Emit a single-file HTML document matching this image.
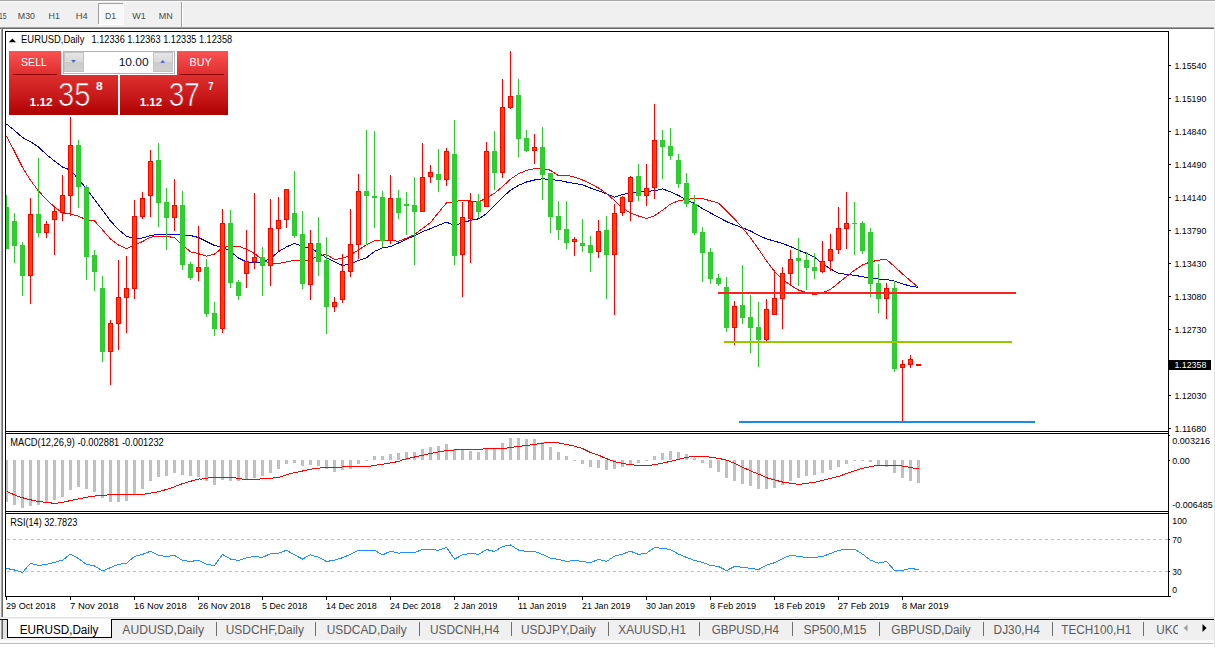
<!DOCTYPE html>
<html><head><meta charset="utf-8"><title>EURUSD,Daily</title>
<style>html,body{margin:0;padding:0;background:#fff;font-family:"Liberation Sans",sans-serif;}svg{display:block}text{font-family:"Liberation Sans",sans-serif;white-space:pre}</style>
</head><body>
<svg width="1215" height="647" viewBox="0 0 1215 647" font-family="Liberation Sans, sans-serif"><rect x="0" y="0" width="1215" height="647" fill="#fff"/>
<rect x="0" y="0" width="1215" height="27" fill="#f0f0f0"/>
<rect x="0" y="0" width="1215" height="1" fill="#a8a8a8"/>
<rect x="0" y="1" width="1215" height="1" fill="#fbfbfb"/>
<rect x="0" y="27" width="1215" height="1" fill="#a0a0a0"/>
<rect x="0" y="28" width="1215" height="1" fill="#696969"/>
<rect x="0" y="29" width="1" height="589" fill="#f0f0f0"/>
<rect x="1" y="28" width="1" height="590" fill="#a0a0a0"/>
<rect x="2" y="28" width="1" height="590" fill="#696969"/>
<rect x="1214" y="27" width="1" height="620" fill="#e3e3e3"/>
<rect x="0" y="617" width="1215" height="1" fill="#e3e3e3"/>
<rect x="0" y="618" width="1215" height="1" fill="#f0f0f0"/>
<rect x="98" y="3" width="26" height="22" fill="#f8f8f8"/>
<rect x="98" y="3" width="25" height="1" fill="#a0a0a0"/>
<rect x="98" y="3" width="1" height="22" fill="#a0a0a0"/>
<rect x="123" y="3" width="1" height="22" fill="#fff"/>
<rect x="98" y="24" width="26" height="1" fill="#fff"/>
<text x="-1" y="18.9" font-size="9.8" textLength="7.6" lengthAdjust="spacingAndGlyphs" fill="#4a4a4a">15</text>
<text x="17.8" y="18.9" font-size="9.8" textLength="17.2" lengthAdjust="spacingAndGlyphs" fill="#4a4a4a">M30</text>
<text x="48.6" y="18.9" font-size="9.8" textLength="11.4" lengthAdjust="spacingAndGlyphs" fill="#4a4a4a">H1</text>
<text x="75.7" y="18.9" font-size="9.8" textLength="12" lengthAdjust="spacingAndGlyphs" fill="#4a4a4a">H4</text>
<text x="104.9" y="18.9" font-size="9.8" textLength="11.1" lengthAdjust="spacingAndGlyphs" fill="#4a4a4a">D1</text>
<text x="132.2" y="18.9" font-size="9.8" textLength="13.5" lengthAdjust="spacingAndGlyphs" fill="#4a4a4a">W1</text>
<text x="158.8" y="18.9" font-size="9.8" textLength="14" lengthAdjust="spacingAndGlyphs" fill="#4a4a4a">MN</text>
<rect x="181" y="2" width="1" height="25" fill="#a0a0a0"/>
<rect x="182" y="2" width="1" height="25" fill="#ffffff"/>
<rect x="5" y="31" width="1" height="566" fill="#000"/>
<rect x="1168" y="31" width="1" height="566" fill="#000"/>
<rect x="5" y="31" width="1164" height="1" fill="#000"/>
<rect x="5" y="431" width="1164" height="1" fill="#000"/>
<rect x="5" y="433" width="1164" height="1" fill="#000"/>
<rect x="5" y="511" width="1164" height="1" fill="#000"/>
<rect x="5" y="513" width="1164" height="1" fill="#000"/>
<rect x="5" y="596" width="1164" height="1" fill="#000"/>
<rect x="1169" y="65" width="2" height="1" fill="#000"/>
<text x="1174.4" y="68.7" font-size="9.4" textLength="32" lengthAdjust="spacingAndGlyphs">1.15540</text>
<rect x="1169" y="98" width="2" height="1" fill="#000"/>
<text x="1174.4" y="101.72" font-size="9.4" textLength="32" lengthAdjust="spacingAndGlyphs">1.15190</text>
<rect x="1169" y="131" width="2" height="1" fill="#000"/>
<text x="1174.4" y="134.74" font-size="9.4" textLength="32" lengthAdjust="spacingAndGlyphs">1.14840</text>
<rect x="1169" y="164" width="2" height="1" fill="#000"/>
<text x="1174.4" y="167.76" font-size="9.4" textLength="32" lengthAdjust="spacingAndGlyphs">1.14490</text>
<rect x="1169" y="197" width="2" height="1" fill="#000"/>
<text x="1174.4" y="200.78" font-size="9.4" textLength="32" lengthAdjust="spacingAndGlyphs">1.14140</text>
<rect x="1169" y="230" width="2" height="1" fill="#000"/>
<text x="1174.4" y="233.8" font-size="9.4" textLength="32" lengthAdjust="spacingAndGlyphs">1.13790</text>
<rect x="1169" y="263" width="2" height="1" fill="#000"/>
<text x="1174.4" y="266.82" font-size="9.4" textLength="32" lengthAdjust="spacingAndGlyphs">1.13430</text>
<rect x="1169" y="296" width="2" height="1" fill="#000"/>
<text x="1174.4" y="299.84" font-size="9.4" textLength="32" lengthAdjust="spacingAndGlyphs">1.13080</text>
<rect x="1169" y="329" width="2" height="1" fill="#000"/>
<text x="1174.4" y="332.86" font-size="9.4" textLength="32" lengthAdjust="spacingAndGlyphs">1.12730</text>
<rect x="1169" y="395" width="2" height="1" fill="#000"/>
<text x="1174.4" y="398.9" font-size="9.4" textLength="32" lengthAdjust="spacingAndGlyphs">1.12030</text>
<rect x="1169" y="428" width="2" height="1" fill="#000"/>
<text x="1174.4" y="431.92" font-size="9.4" textLength="32" lengthAdjust="spacingAndGlyphs">1.11680</text>
<rect x="1169" y="360" width="42" height="10" fill="#000"/>
<text x="1174.4" y="368.2" font-size="9.4" textLength="32" lengthAdjust="spacingAndGlyphs" fill="#fff">1.12358</text>
<rect x="1169" y="435" width="1" height="1" fill="#000"/>
<text x="1172.3" y="443.8" font-size="9.4" textLength="37.7" lengthAdjust="spacingAndGlyphs">0.003216</text>
<rect x="1169" y="460" width="1" height="1" fill="#000"/>
<text x="1172.3" y="463.7" font-size="9.4" textLength="17.5" lengthAdjust="spacingAndGlyphs">0.00</text>
<text x="1172.3" y="507.8" font-size="9.4" textLength="40.4" lengthAdjust="spacingAndGlyphs">-0.006485</text>
<text x="1172.3" y="523.9" font-size="9.4" textLength="14.6" lengthAdjust="spacingAndGlyphs">100</text>
<rect x="1169" y="539" width="1" height="1" fill="#000"/>
<text x="1172.3" y="542.8" font-size="9.4" textLength="9.4" lengthAdjust="spacingAndGlyphs">70</text>
<rect x="1169" y="571" width="1" height="1" fill="#000"/>
<text x="1172.3" y="574.9" font-size="9.4" textLength="9.4" lengthAdjust="spacingAndGlyphs">30</text>
<text x="1172.3" y="592.8" font-size="9.4" textLength="4.8" lengthAdjust="spacingAndGlyphs">0</text>
<rect x="1169" y="596" width="2" height="1" fill="#000"/>
<rect x="6" y="597" width="1" height="3" fill="#000"/>
<text x="6" y="609" font-size="9.5" textLength="49.5" lengthAdjust="spacingAndGlyphs">29 Oct 2018</text>
<rect x="70" y="597" width="1" height="3" fill="#000"/>
<text x="70" y="609" font-size="9.5" textLength="48.6" lengthAdjust="spacingAndGlyphs">7 Nov 2018</text>
<rect x="134" y="597" width="1" height="3" fill="#000"/>
<text x="134" y="609" font-size="9.5" textLength="52.7" lengthAdjust="spacingAndGlyphs">16 Nov 2018</text>
<rect x="198" y="597" width="1" height="3" fill="#000"/>
<text x="198" y="609" font-size="9.5" textLength="52.4" lengthAdjust="spacingAndGlyphs">26 Nov 2018</text>
<rect x="262" y="597" width="1" height="3" fill="#000"/>
<text x="262" y="609" font-size="9.5" textLength="45.3" lengthAdjust="spacingAndGlyphs">5 Dec 2018</text>
<rect x="326" y="597" width="1" height="3" fill="#000"/>
<text x="326" y="609" font-size="9.5" textLength="50.7" lengthAdjust="spacingAndGlyphs">14 Dec 2018</text>
<rect x="390" y="597" width="1" height="3" fill="#000"/>
<text x="390" y="609" font-size="9.5" textLength="50.7" lengthAdjust="spacingAndGlyphs">24 Dec 2018</text>
<rect x="454" y="597" width="1" height="3" fill="#000"/>
<text x="454" y="609" font-size="9.5" textLength="43.4" lengthAdjust="spacingAndGlyphs">2 Jan 2019</text>
<rect x="518" y="597" width="1" height="3" fill="#000"/>
<text x="518" y="609" font-size="9.5" textLength="48.4" lengthAdjust="spacingAndGlyphs">11 Jan 2019</text>
<rect x="582" y="597" width="1" height="3" fill="#000"/>
<text x="582" y="609" font-size="9.5" textLength="48.4" lengthAdjust="spacingAndGlyphs">21 Jan 2019</text>
<rect x="646" y="597" width="1" height="3" fill="#000"/>
<text x="646" y="609" font-size="9.5" textLength="49" lengthAdjust="spacingAndGlyphs">30 Jan 2019</text>
<rect x="710" y="597" width="1" height="3" fill="#000"/>
<text x="710" y="609" font-size="9.5" textLength="46" lengthAdjust="spacingAndGlyphs">8 Feb 2019</text>
<rect x="774" y="597" width="1" height="3" fill="#000"/>
<text x="774" y="609" font-size="9.5" textLength="51" lengthAdjust="spacingAndGlyphs">18 Feb 2019</text>
<rect x="838" y="597" width="1" height="3" fill="#000"/>
<text x="838" y="609" font-size="9.5" textLength="51.2" lengthAdjust="spacingAndGlyphs">27 Feb 2019</text>
<rect x="902" y="597" width="1" height="3" fill="#000"/>
<text x="902" y="609" font-size="9.5" textLength="46.5" lengthAdjust="spacingAndGlyphs">8 Mar 2019</text>
<line x1="7" y1="539.5" x2="1168" y2="539.5" stroke="#c0c0c0" stroke-width="1" stroke-dasharray="3 3" shape-rendering="crispEdges"/>
<line x1="7" y1="571.5" x2="1168" y2="571.5" stroke="#c0c0c0" stroke-width="1" stroke-dasharray="3 3" shape-rendering="crispEdges"/>
<g fill="#c0c0c0" shape-rendering="crispEdges">
<rect x="6" y="460" width="2" height="42"/>
<rect x="13" y="460" width="3" height="45"/>
<rect x="21" y="460" width="3" height="48"/>
<rect x="29" y="460" width="3" height="46"/>
<rect x="37" y="460" width="3" height="45"/>
<rect x="45" y="460" width="3" height="42"/>
<rect x="53" y="460" width="3" height="40"/>
<rect x="61" y="460" width="3" height="37"/>
<rect x="69" y="460" width="3" height="30"/>
<rect x="77" y="460" width="3" height="27"/>
<rect x="85" y="460" width="3" height="29"/>
<rect x="93" y="460" width="3" height="32"/>
<rect x="101" y="460" width="3" height="38"/>
<rect x="109" y="460" width="3" height="42"/>
<rect x="117" y="460" width="3" height="42"/>
<rect x="125" y="460" width="3" height="41"/>
<rect x="133" y="460" width="3" height="34"/>
<rect x="141" y="460" width="3" height="29"/>
<rect x="149" y="460" width="3" height="21"/>
<rect x="157" y="460" width="3" height="17"/>
<rect x="165" y="460" width="3" height="16"/>
<rect x="173" y="460" width="3" height="13"/>
<rect x="181" y="460" width="3" height="15"/>
<rect x="189" y="460" width="3" height="16"/>
<rect x="197" y="460" width="3" height="17"/>
<rect x="205" y="460" width="3" height="21"/>
<rect x="213" y="460" width="3" height="25"/>
<rect x="221" y="460" width="3" height="20"/>
<rect x="229" y="460" width="3" height="21"/>
<rect x="237" y="460" width="3" height="21"/>
<rect x="245" y="460" width="3" height="20"/>
<rect x="253" y="460" width="3" height="18"/>
<rect x="261" y="460" width="3" height="16"/>
<rect x="269" y="460" width="3" height="13"/>
<rect x="277" y="460" width="3" height="9"/>
<rect x="285" y="460" width="3" height="4"/>
<rect x="293" y="460" width="3" height="3"/>
<rect x="301" y="460" width="3" height="6"/>
<rect x="309" y="460" width="3" height="5"/>
<rect x="317" y="460" width="3" height="6"/>
<rect x="325" y="460" width="3" height="9"/>
<rect x="333" y="460" width="3" height="12"/>
<rect x="341" y="460" width="3" height="10"/>
<rect x="349" y="460" width="3" height="9"/>
<rect x="357" y="460" width="3" height="4"/>
<rect x="365" y="460" width="3" height="1"/>
<rect x="373" y="456" width="3" height="4"/>
<rect x="381" y="456" width="3" height="4"/>
<rect x="389" y="454" width="3" height="6"/>
<rect x="397" y="453" width="3" height="7"/>
<rect x="405" y="452" width="3" height="8"/>
<rect x="413" y="452" width="3" height="8"/>
<rect x="421" y="449" width="3" height="11"/>
<rect x="429" y="447" width="3" height="13"/>
<rect x="437" y="446" width="3" height="14"/>
<rect x="445" y="444" width="3" height="16"/>
<rect x="453" y="449" width="3" height="11"/>
<rect x="461" y="450" width="3" height="10"/>
<rect x="469" y="451" width="3" height="9"/>
<rect x="477" y="452" width="3" height="8"/>
<rect x="485" y="449" width="3" height="11"/>
<rect x="493" y="449" width="3" height="11"/>
<rect x="501" y="443" width="3" height="17"/>
<rect x="509" y="438" width="3" height="22"/>
<rect x="517" y="438" width="3" height="22"/>
<rect x="525" y="439" width="3" height="21"/>
<rect x="533" y="439" width="3" height="21"/>
<rect x="541" y="442" width="3" height="18"/>
<rect x="549" y="447" width="3" height="13"/>
<rect x="557" y="452" width="3" height="8"/>
<rect x="565" y="456" width="3" height="4"/>
<rect x="573" y="460" width="3" height="1"/>
<rect x="581" y="460" width="3" height="4"/>
<rect x="589" y="460" width="3" height="7"/>
<rect x="597" y="460" width="3" height="8"/>
<rect x="605" y="460" width="3" height="10"/>
<rect x="613" y="460" width="3" height="9"/>
<rect x="621" y="460" width="3" height="7"/>
<rect x="629" y="460" width="3" height="4"/>
<rect x="637" y="460" width="3" height="3"/>
<rect x="645" y="460" width="3" height="1"/>
<rect x="653" y="456" width="3" height="4"/>
<rect x="661" y="453" width="3" height="7"/>
<rect x="669" y="451" width="3" height="9"/>
<rect x="677" y="452" width="3" height="8"/>
<rect x="685" y="454" width="3" height="6"/>
<rect x="693" y="458" width="3" height="2"/>
<rect x="701" y="460" width="3" height="3"/>
<rect x="709" y="460" width="3" height="8"/>
<rect x="717" y="460" width="3" height="12"/>
<rect x="725" y="460" width="3" height="18"/>
<rect x="733" y="460" width="3" height="21"/>
<rect x="741" y="460" width="3" height="24"/>
<rect x="749" y="460" width="3" height="26"/>
<rect x="757" y="460" width="3" height="29"/>
<rect x="765" y="460" width="3" height="29"/>
<rect x="773" y="460" width="3" height="28"/>
<rect x="781" y="460" width="3" height="25"/>
<rect x="789" y="460" width="3" height="21"/>
<rect x="797" y="460" width="3" height="18"/>
<rect x="805" y="460" width="3" height="16"/>
<rect x="813" y="460" width="3" height="15"/>
<rect x="821" y="460" width="3" height="13"/>
<rect x="829" y="460" width="3" height="10"/>
<rect x="837" y="460" width="3" height="7"/>
<rect x="845" y="460" width="3" height="4"/>
<rect x="853" y="460" width="3" height="1"/>
<rect x="861" y="460" width="3" height="1"/>
<rect x="869" y="460" width="3" height="2"/>
<rect x="877" y="460" width="3" height="5"/>
<rect x="885" y="460" width="3" height="7"/>
<rect x="893" y="460" width="3" height="13"/>
<rect x="901" y="460" width="3" height="18"/>
<rect x="909" y="460" width="3" height="21"/>
<rect x="917" y="460" width="3" height="23"/>
</g>
<polyline points="7.1,491.6 17,496 26.8,499 38.4,501.5 48.2,502.6 55.6,503.5 66.3,501.5 77.9,499 91,496.5 102.5,495.2 115.7,494.6 132.2,494.4 145.4,494 156.9,492 168.4,489 181.5,484 191.5,481 199.7,478.8 200.5,479.3 210.4,477.6 233.4,477.6 243.3,479.3 266.3,478.9 279.5,477.1 291,473.5 302.5,471 314.1,468.6 325.6,467.4 337.1,467.4 348.6,466.4 368.4,466.4 378.3,464.8 389.8,463.1 399.7,461.2 400.5,460.3 410.4,457.9 421.9,455.4 433.4,452.9 446.6,450.5 459.8,449.6 479.5,449.6 486.1,448.5 504.2,448.5 515.7,446.7 528.9,445.2 540.4,443.5 550.3,442.2 555.2,442.2 565.1,444.2 575,446.3 583.2,448.8 591.4,452.9 599.7,455.4 600.5,456.2 608.7,459.5 617,462.3 626.8,464.1 636.7,465.3 649.9,465.3 658.1,464 666.3,462.3 674.6,460.3 682.8,458.2 691,456.6 705.8,456.6 715.7,457.9 725.6,459.8 735.5,463.6 743.7,467.7 751.9,471.5 760.2,474.7 768.4,478.4 775,480.1 783.2,482.2 791.4,483.4 799.7,484.5 800.5,484.2 815.3,482.1 825.2,479.6 838.4,476.5 848.2,473 861.4,468.6 877.9,465.3 897.6,465.3 907.5,466.9 918.5,469" fill="none" stroke="#ff0000" stroke-width="1" shape-rendering="crispEdges"/>
<polyline points="6.5,568.4 14.5,570 22.5,572.6 30.5,563.2 38.5,565.5 46.5,564.3 54.5,562.3 62.5,560.2 70.5,554.1 78.5,558.6 86.5,564.3 94.5,566 102.5,570.9 110.5,567.6 118.5,564.3 126.5,563.2 134.5,556.4 142.5,554.4 150.5,551.2 158.5,555.3 166.5,556.6 174.5,555.3 182.5,560.5 190.5,561.5 198.5,560.2 206.5,564.3 214.5,565.5 222.5,554.4 230.5,559 238.5,560.5 246.5,557.7 254.5,556.4 262.5,557.4 270.5,553.6 278.5,553.3 286.5,550.3 294.5,554.9 302.5,559 310.5,554.9 318.5,557.2 326.5,561.5 334.5,560.2 342.5,557.7 350.5,554.4 358.5,550.3 366.5,550.3 374.5,550.3 382.5,554.9 390.5,551.2 398.5,553.1 406.5,552.5 414.5,552.5 422.5,549.5 430.5,549.5 438.5,550.3 446.5,547.5 454.5,559 462.5,554.9 470.5,553.3 478.5,554.4 486.5,549.5 494.5,551.5 502.5,546.5 510.5,545 518.5,550 526.5,551.5 534.5,551.5 542.5,554.4 550.5,558.2 558.5,559.4 566.5,561.5 574.5,560.5 582.5,561.5 590.5,562.7 598.5,559.4 606.5,561.5 614.5,556.1 622.5,554.1 630.5,551.2 638.5,554.4 646.5,553.3 654.5,547.5 662.5,548.4 670.5,549.5 678.5,554.1 686.5,557.4 694.5,560.5 702.5,562.3 710.5,565.5 718.5,566.5 726.5,570.6 734.5,566.5 742.5,567.3 750.5,568.4 758.5,569.6 766.5,565.1 774.5,562.7 782.5,558.6 790.5,555.3 798.5,556.4 806.5,557.4 814.5,557.4 822.5,556.4 830.5,553.6 838.5,550.3 846.5,549.2 854.5,549.2 862.5,554.1 870.5,560.2 878.5,563.2 886.5,561.5 894.5,570.4 902.5,570.4 910.5,568.4 918.5,569.6" fill="none" stroke="#1e90ff" stroke-width="1" shape-rendering="crispEdges"/>
<polyline points="6.5,124 14.5,130.4 22.5,137.5 30.5,141.7 38.5,147 46.5,154.6 54.5,161 62.5,167 70.5,170.2 78.5,179.2 86.5,188.8 94.5,199.5 102.5,210.2 110.5,221 118.5,229.5 126.5,236.3 134.5,238.7 142.5,238 150.5,235.5 158.5,234.3 166.5,234.8 174.5,234.3 182.5,235 190.5,235.5 198.5,237.5 206.5,241.5 214.5,245.5 222.5,247 230.5,251.5 238.5,258 246.5,261.9 254.5,262.6 262.5,262.3 270.5,258.4 278.5,251.7 286.5,246.9 294.5,243.4 302.5,246.5 310.5,247.9 318.5,252.8 326.5,257.7 334.5,261.9 342.5,265.4 350.5,264 358.5,260.5 366.5,257.7 374.5,251.4 382.5,247.9 390.5,246.5 398.5,243 406.5,239.3 414.5,235.6 422.5,231.6 430.5,228.6 438.5,225.2 446.5,222.2 454.5,225.4 462.5,222.8 470.5,220.4 478.5,218.8 486.5,213.8 494.5,205.6 502.5,197.3 510.5,190.3 518.5,185.3 526.5,182 534.5,180 542.5,178.8 550.5,179.4 558.5,180.4 566.5,182 574.5,183.4 582.5,184.8 590.5,188 598.5,190.9 606.5,193.7 614.5,197.3 622.5,194.5 630.5,193.1 638.5,192.3 646.5,191.5 654.5,190.7 662.5,188.9 670.5,191.9 678.5,195.5 686.5,199.7 694.5,203.5 702.5,208.6 710.5,213 718.5,217.2 726.5,221.6 734.5,224.8 742.5,227.8 750.5,231 758.5,235.3 766.5,238.9 774.5,241.1 782.5,243.5 790.5,246.5 798.5,250.2 806.5,253.4 814.5,257 822.5,263.8 830.5,269 838.5,273.3 846.5,274.3 854.5,275.3 862.5,276.7 870.5,278.1 878.5,279.1 886.5,279.5 894.5,281.1 902.5,283.9 910.5,286.1 918.5,287.5" fill="none" stroke="#0000cd" stroke-width="1" shape-rendering="crispEdges"/>
<polyline points="6.5,136.4 14.5,151.4 22.5,167.4 30.5,180.3 38.5,191 46.5,199.5 54.5,207 62.5,213 70.5,213.9 78.5,216.2 86.5,219.9 94.5,220.9 102.5,229.8 110.5,239 118.5,245 126.5,248.6 134.5,245.2 142.5,241.5 150.5,237.2 158.5,236.2 166.5,236.2 174.5,237.8 182.5,244.8 190.5,251.8 198.5,253.7 206.5,256.1 214.5,254.1 222.5,247.7 230.5,246.3 238.5,246.1 246.5,249.3 254.5,253.5 262.5,259.8 270.5,264 278.5,263.6 286.5,261.9 294.5,260.2 302.5,260.5 310.5,259.8 318.5,255.6 326.5,254.6 334.5,259.5 342.5,258.4 350.5,254.9 358.5,250 366.5,244.8 374.5,240.6 382.5,240.9 390.5,240.6 398.5,241.2 406.5,238.3 414.5,234.6 422.5,228.6 430.5,222.6 438.5,212.5 446.5,203 454.5,201.5 462.5,200.5 470.5,201 478.5,202 486.5,198 494.5,193.3 502.5,186.5 510.5,179.2 518.5,173.8 526.5,170.4 534.5,168.6 542.5,168.6 550.5,170.2 558.5,175.8 566.5,175.2 574.5,177.2 582.5,180 590.5,183.8 598.5,188 606.5,193.5 614.5,200.5 622.5,208 630.5,213 638.5,216 646.5,218.4 654.5,215.8 662.5,210.2 670.5,204.1 678.5,200.7 686.5,199.5 694.5,198.5 702.5,198.7 710.5,200.8 718.5,203.1 726.5,211.2 734.5,219 742.5,227.8 750.5,237.9 758.5,249.1 766.5,261 774.5,271.3 782.5,279.3 790.5,285.3 798.5,290 806.5,292.6 814.5,294.6 822.5,292.6 830.5,289.5 838.5,282.9 846.5,276.5 854.5,270.3 862.5,265 870.5,261.8 878.5,260.2 886.5,259.4 894.5,266.6 902.5,273.9 910.5,280.9 918.5,287.3" fill="none" stroke="#ff0000" stroke-width="1" shape-rendering="crispEdges"/>
<g shape-rendering="crispEdges">
<rect x="6" y="195" width="1" height="54" fill="#2ecb2e"/>
<rect x="6" y="207" width="3" height="42" fill="#2ecb2e"/>
<rect x="14" y="213" width="1" height="50" fill="#2ecb2e"/>
<rect x="12" y="221" width="5" height="25" fill="#2ecb2e"/>
<rect x="13" y="222" width="3" height="23" fill="#32cd32"/>
<rect x="22" y="242" width="1" height="54" fill="#2ecb2e"/>
<rect x="20" y="245" width="5" height="31" fill="#2ecb2e"/>
<rect x="21" y="246" width="3" height="29" fill="#32cd32"/>
<rect x="30" y="198" width="1" height="106" fill="#ff0000"/>
<rect x="28" y="214" width="5" height="62" fill="#ff0000"/>
<rect x="29" y="215" width="3" height="60" fill="#ff4500"/>
<rect x="38" y="158" width="1" height="79" fill="#2ecb2e"/>
<rect x="36" y="214" width="5" height="19" fill="#2ecb2e"/>
<rect x="37" y="215" width="3" height="17" fill="#32cd32"/>
<rect x="46" y="221" width="1" height="17" fill="#ff0000"/>
<rect x="44" y="224" width="5" height="9" fill="#ff0000"/>
<rect x="45" y="225" width="3" height="7" fill="#ff4500"/>
<rect x="54" y="206" width="1" height="49" fill="#ff0000"/>
<rect x="52" y="211" width="5" height="9" fill="#ff0000"/>
<rect x="53" y="212" width="3" height="7" fill="#ff4500"/>
<rect x="62" y="175" width="1" height="46" fill="#ff0000"/>
<rect x="60" y="195" width="5" height="18" fill="#ff0000"/>
<rect x="61" y="196" width="3" height="16" fill="#ff4500"/>
<rect x="70" y="117" width="1" height="99" fill="#ff0000"/>
<rect x="68" y="145" width="5" height="51" fill="#ff0000"/>
<rect x="69" y="146" width="3" height="49" fill="#ff4500"/>
<rect x="78" y="140" width="1" height="68" fill="#2ecb2e"/>
<rect x="76" y="145" width="5" height="42" fill="#2ecb2e"/>
<rect x="77" y="146" width="3" height="40" fill="#32cd32"/>
<rect x="86" y="185" width="1" height="95" fill="#2ecb2e"/>
<rect x="84" y="187" width="5" height="70" fill="#2ecb2e"/>
<rect x="85" y="188" width="3" height="68" fill="#32cd32"/>
<rect x="94" y="250" width="1" height="41" fill="#2ecb2e"/>
<rect x="92" y="255" width="5" height="17" fill="#2ecb2e"/>
<rect x="93" y="256" width="3" height="15" fill="#32cd32"/>
<rect x="102" y="276" width="1" height="86" fill="#2ecb2e"/>
<rect x="100" y="288" width="5" height="64" fill="#2ecb2e"/>
<rect x="101" y="289" width="3" height="62" fill="#32cd32"/>
<rect x="110" y="320" width="1" height="65" fill="#ff0000"/>
<rect x="108" y="323" width="5" height="29" fill="#ff0000"/>
<rect x="109" y="324" width="3" height="27" fill="#ff4500"/>
<rect x="118" y="260" width="1" height="90" fill="#ff0000"/>
<rect x="116" y="297" width="5" height="27" fill="#ff0000"/>
<rect x="117" y="298" width="3" height="25" fill="#ff4500"/>
<rect x="126" y="256" width="1" height="77" fill="#ff0000"/>
<rect x="124" y="288" width="5" height="10" fill="#ff0000"/>
<rect x="125" y="289" width="3" height="8" fill="#ff4500"/>
<rect x="134" y="200" width="1" height="99" fill="#ff0000"/>
<rect x="132" y="216" width="5" height="73" fill="#ff0000"/>
<rect x="133" y="217" width="3" height="71" fill="#ff4500"/>
<rect x="142" y="192" width="1" height="27" fill="#ff0000"/>
<rect x="140" y="198" width="5" height="19" fill="#ff0000"/>
<rect x="141" y="199" width="3" height="17" fill="#ff4500"/>
<rect x="150" y="150" width="1" height="67" fill="#ff0000"/>
<rect x="148" y="161" width="5" height="35" fill="#ff0000"/>
<rect x="149" y="162" width="3" height="33" fill="#ff4500"/>
<rect x="158" y="143" width="1" height="84" fill="#2ecb2e"/>
<rect x="156" y="160" width="5" height="43" fill="#2ecb2e"/>
<rect x="157" y="161" width="3" height="41" fill="#32cd32"/>
<rect x="166" y="188" width="1" height="62" fill="#2ecb2e"/>
<rect x="164" y="202" width="5" height="16" fill="#2ecb2e"/>
<rect x="165" y="203" width="3" height="14" fill="#32cd32"/>
<rect x="174" y="179" width="1" height="52" fill="#ff0000"/>
<rect x="172" y="205" width="5" height="13" fill="#ff0000"/>
<rect x="173" y="206" width="3" height="11" fill="#ff4500"/>
<rect x="182" y="191" width="1" height="79" fill="#2ecb2e"/>
<rect x="180" y="205" width="5" height="60" fill="#2ecb2e"/>
<rect x="181" y="206" width="3" height="58" fill="#32cd32"/>
<rect x="190" y="262" width="1" height="18" fill="#2ecb2e"/>
<rect x="188" y="264" width="5" height="14" fill="#2ecb2e"/>
<rect x="189" y="265" width="3" height="12" fill="#32cd32"/>
<rect x="198" y="226" width="1" height="55" fill="#ff0000"/>
<rect x="196" y="267" width="5" height="5" fill="#ff0000"/>
<rect x="197" y="268" width="3" height="3" fill="#ff4500"/>
<rect x="206" y="259" width="1" height="58" fill="#2ecb2e"/>
<rect x="204" y="267" width="5" height="47" fill="#2ecb2e"/>
<rect x="205" y="268" width="3" height="45" fill="#32cd32"/>
<rect x="214" y="302" width="1" height="34" fill="#2ecb2e"/>
<rect x="212" y="313" width="5" height="16" fill="#2ecb2e"/>
<rect x="213" y="314" width="3" height="14" fill="#32cd32"/>
<rect x="222" y="209" width="1" height="124" fill="#ff0000"/>
<rect x="220" y="223" width="5" height="106" fill="#ff0000"/>
<rect x="221" y="224" width="3" height="104" fill="#ff4500"/>
<rect x="230" y="210" width="1" height="78" fill="#2ecb2e"/>
<rect x="228" y="223" width="5" height="60" fill="#2ecb2e"/>
<rect x="229" y="224" width="3" height="58" fill="#32cd32"/>
<rect x="238" y="280" width="1" height="20" fill="#2ecb2e"/>
<rect x="236" y="282" width="5" height="14" fill="#2ecb2e"/>
<rect x="237" y="283" width="3" height="12" fill="#32cd32"/>
<rect x="246" y="230" width="1" height="58" fill="#ff0000"/>
<rect x="244" y="261" width="5" height="13" fill="#ff0000"/>
<rect x="245" y="262" width="3" height="11" fill="#ff4500"/>
<rect x="254" y="193" width="1" height="76" fill="#ff0000"/>
<rect x="252" y="257" width="5" height="5" fill="#ff0000"/>
<rect x="253" y="258" width="3" height="3" fill="#ff4500"/>
<rect x="262" y="247" width="1" height="49" fill="#2ecb2e"/>
<rect x="260" y="257" width="5" height="9" fill="#2ecb2e"/>
<rect x="261" y="258" width="3" height="7" fill="#32cd32"/>
<rect x="270" y="199" width="1" height="87" fill="#ff0000"/>
<rect x="268" y="228" width="5" height="38" fill="#ff0000"/>
<rect x="269" y="229" width="3" height="36" fill="#ff4500"/>
<rect x="278" y="197" width="1" height="54" fill="#ff0000"/>
<rect x="276" y="220" width="5" height="9" fill="#ff0000"/>
<rect x="277" y="221" width="3" height="7" fill="#ff4500"/>
<rect x="286" y="189" width="1" height="39" fill="#ff0000"/>
<rect x="284" y="189" width="5" height="31" fill="#ff0000"/>
<rect x="285" y="190" width="3" height="29" fill="#ff4500"/>
<rect x="294" y="171" width="1" height="67" fill="#2ecb2e"/>
<rect x="292" y="213" width="5" height="23" fill="#2ecb2e"/>
<rect x="293" y="214" width="3" height="21" fill="#32cd32"/>
<rect x="302" y="211" width="1" height="78" fill="#2ecb2e"/>
<rect x="300" y="234" width="5" height="50" fill="#2ecb2e"/>
<rect x="301" y="235" width="3" height="48" fill="#32cd32"/>
<rect x="310" y="230" width="1" height="70" fill="#ff0000"/>
<rect x="308" y="243" width="5" height="42" fill="#ff0000"/>
<rect x="309" y="244" width="3" height="40" fill="#ff4500"/>
<rect x="318" y="217" width="1" height="59" fill="#2ecb2e"/>
<rect x="316" y="243" width="5" height="19" fill="#2ecb2e"/>
<rect x="317" y="244" width="3" height="17" fill="#32cd32"/>
<rect x="326" y="237" width="1" height="97" fill="#2ecb2e"/>
<rect x="324" y="260" width="5" height="47" fill="#2ecb2e"/>
<rect x="325" y="261" width="3" height="45" fill="#32cd32"/>
<rect x="334" y="297" width="1" height="15" fill="#ff0000"/>
<rect x="332" y="302" width="5" height="5" fill="#ff0000"/>
<rect x="333" y="303" width="3" height="3" fill="#ff4500"/>
<rect x="342" y="254" width="1" height="49" fill="#ff0000"/>
<rect x="340" y="271" width="5" height="29" fill="#ff0000"/>
<rect x="341" y="272" width="3" height="27" fill="#ff4500"/>
<rect x="350" y="209" width="1" height="68" fill="#ff0000"/>
<rect x="348" y="244" width="5" height="28" fill="#ff0000"/>
<rect x="349" y="245" width="3" height="26" fill="#ff4500"/>
<rect x="358" y="174" width="1" height="85" fill="#ff0000"/>
<rect x="356" y="191" width="5" height="54" fill="#ff0000"/>
<rect x="357" y="192" width="3" height="52" fill="#ff4500"/>
<rect x="366" y="130" width="1" height="115" fill="#2ecb2e"/>
<rect x="364" y="191" width="5" height="5" fill="#2ecb2e"/>
<rect x="365" y="192" width="3" height="3" fill="#32cd32"/>
<rect x="374" y="131" width="1" height="97" fill="#2ecb2e"/>
<rect x="372" y="196" width="5" height="2" fill="#2ecb2e"/>
<rect x="382" y="191" width="1" height="56" fill="#2ecb2e"/>
<rect x="380" y="197" width="5" height="44" fill="#2ecb2e"/>
<rect x="381" y="198" width="3" height="42" fill="#32cd32"/>
<rect x="390" y="175" width="1" height="69" fill="#ff0000"/>
<rect x="388" y="198" width="5" height="43" fill="#ff0000"/>
<rect x="389" y="199" width="3" height="41" fill="#ff4500"/>
<rect x="398" y="190" width="1" height="29" fill="#2ecb2e"/>
<rect x="396" y="198" width="5" height="15" fill="#2ecb2e"/>
<rect x="397" y="199" width="3" height="13" fill="#32cd32"/>
<rect x="406" y="192" width="1" height="43" fill="#2ecb2e"/>
<rect x="404" y="204" width="5" height="2" fill="#2ecb2e"/>
<rect x="414" y="177" width="1" height="88" fill="#2ecb2e"/>
<rect x="412" y="205" width="5" height="7" fill="#2ecb2e"/>
<rect x="413" y="206" width="3" height="5" fill="#32cd32"/>
<rect x="422" y="143" width="1" height="69" fill="#ff0000"/>
<rect x="420" y="177" width="5" height="35" fill="#ff0000"/>
<rect x="421" y="178" width="3" height="33" fill="#ff4500"/>
<rect x="430" y="165" width="1" height="18" fill="#ff0000"/>
<rect x="428" y="172" width="5" height="5" fill="#ff0000"/>
<rect x="429" y="173" width="3" height="3" fill="#ff4500"/>
<rect x="438" y="149" width="1" height="43" fill="#2ecb2e"/>
<rect x="436" y="174" width="5" height="6" fill="#2ecb2e"/>
<rect x="437" y="175" width="3" height="4" fill="#32cd32"/>
<rect x="446" y="148" width="1" height="38" fill="#ff0000"/>
<rect x="444" y="151" width="5" height="29" fill="#ff0000"/>
<rect x="445" y="152" width="3" height="27" fill="#ff4500"/>
<rect x="454" y="120" width="1" height="145" fill="#2ecb2e"/>
<rect x="452" y="154" width="5" height="102" fill="#2ecb2e"/>
<rect x="453" y="155" width="3" height="100" fill="#32cd32"/>
<rect x="462" y="202" width="1" height="95" fill="#ff0000"/>
<rect x="460" y="217" width="5" height="38" fill="#ff0000"/>
<rect x="461" y="218" width="3" height="36" fill="#ff4500"/>
<rect x="470" y="193" width="1" height="70" fill="#ff0000"/>
<rect x="468" y="201" width="5" height="18" fill="#ff0000"/>
<rect x="469" y="202" width="3" height="16" fill="#ff4500"/>
<rect x="478" y="194" width="1" height="24" fill="#2ecb2e"/>
<rect x="476" y="201" width="5" height="11" fill="#2ecb2e"/>
<rect x="477" y="202" width="3" height="9" fill="#32cd32"/>
<rect x="486" y="142" width="1" height="65" fill="#ff0000"/>
<rect x="484" y="151" width="5" height="56" fill="#ff0000"/>
<rect x="485" y="152" width="3" height="54" fill="#ff4500"/>
<rect x="494" y="131" width="1" height="59" fill="#2ecb2e"/>
<rect x="492" y="151" width="5" height="22" fill="#2ecb2e"/>
<rect x="493" y="152" width="3" height="20" fill="#32cd32"/>
<rect x="502" y="79" width="1" height="99" fill="#ff0000"/>
<rect x="500" y="107" width="5" height="66" fill="#ff0000"/>
<rect x="501" y="108" width="3" height="64" fill="#ff4500"/>
<rect x="510" y="51" width="1" height="58" fill="#ff0000"/>
<rect x="508" y="96" width="5" height="12" fill="#ff0000"/>
<rect x="509" y="97" width="3" height="10" fill="#ff4500"/>
<rect x="518" y="79" width="1" height="78" fill="#2ecb2e"/>
<rect x="516" y="95" width="5" height="44" fill="#2ecb2e"/>
<rect x="517" y="96" width="3" height="42" fill="#32cd32"/>
<rect x="526" y="130" width="1" height="22" fill="#2ecb2e"/>
<rect x="524" y="138" width="5" height="13" fill="#2ecb2e"/>
<rect x="525" y="139" width="3" height="11" fill="#32cd32"/>
<rect x="534" y="134" width="1" height="30" fill="#ff0000"/>
<rect x="532" y="147" width="5" height="4" fill="#ff0000"/>
<rect x="533" y="148" width="3" height="2" fill="#ff4500"/>
<rect x="542" y="127" width="1" height="73" fill="#2ecb2e"/>
<rect x="540" y="147" width="5" height="28" fill="#2ecb2e"/>
<rect x="541" y="148" width="3" height="26" fill="#32cd32"/>
<rect x="550" y="173" width="1" height="60" fill="#2ecb2e"/>
<rect x="548" y="173" width="5" height="44" fill="#2ecb2e"/>
<rect x="549" y="174" width="3" height="42" fill="#32cd32"/>
<rect x="558" y="201" width="1" height="39" fill="#2ecb2e"/>
<rect x="556" y="216" width="5" height="14" fill="#2ecb2e"/>
<rect x="557" y="217" width="3" height="12" fill="#32cd32"/>
<rect x="566" y="201" width="1" height="48" fill="#2ecb2e"/>
<rect x="564" y="229" width="5" height="14" fill="#2ecb2e"/>
<rect x="565" y="230" width="3" height="12" fill="#32cd32"/>
<rect x="574" y="237" width="1" height="19" fill="#ff0000"/>
<rect x="572" y="239" width="5" height="3" fill="#ff0000"/>
<rect x="573" y="240" width="3" height="1" fill="#ff4500"/>
<rect x="582" y="219" width="1" height="33" fill="#2ecb2e"/>
<rect x="580" y="243" width="5" height="3" fill="#2ecb2e"/>
<rect x="581" y="244" width="3" height="1" fill="#32cd32"/>
<rect x="590" y="236" width="1" height="36" fill="#2ecb2e"/>
<rect x="588" y="245" width="5" height="8" fill="#2ecb2e"/>
<rect x="589" y="246" width="3" height="6" fill="#32cd32"/>
<rect x="598" y="220" width="1" height="38" fill="#ff0000"/>
<rect x="596" y="231" width="5" height="21" fill="#ff0000"/>
<rect x="597" y="232" width="3" height="19" fill="#ff4500"/>
<rect x="606" y="216" width="1" height="83" fill="#2ecb2e"/>
<rect x="604" y="230" width="5" height="25" fill="#2ecb2e"/>
<rect x="605" y="231" width="3" height="23" fill="#32cd32"/>
<rect x="614" y="204" width="1" height="111" fill="#ff0000"/>
<rect x="612" y="213" width="5" height="42" fill="#ff0000"/>
<rect x="613" y="214" width="3" height="40" fill="#ff4500"/>
<rect x="622" y="196" width="1" height="20" fill="#ff0000"/>
<rect x="620" y="197" width="5" height="16" fill="#ff0000"/>
<rect x="621" y="198" width="3" height="14" fill="#ff4500"/>
<rect x="630" y="176" width="1" height="45" fill="#ff0000"/>
<rect x="628" y="177" width="5" height="25" fill="#ff0000"/>
<rect x="629" y="178" width="3" height="23" fill="#ff4500"/>
<rect x="638" y="164" width="1" height="37" fill="#2ecb2e"/>
<rect x="636" y="176" width="5" height="20" fill="#2ecb2e"/>
<rect x="637" y="177" width="3" height="18" fill="#32cd32"/>
<rect x="646" y="164" width="1" height="42" fill="#ff0000"/>
<rect x="644" y="188" width="5" height="8" fill="#ff0000"/>
<rect x="645" y="189" width="3" height="6" fill="#ff4500"/>
<rect x="654" y="104" width="1" height="95" fill="#ff0000"/>
<rect x="652" y="140" width="5" height="48" fill="#ff0000"/>
<rect x="653" y="141" width="3" height="46" fill="#ff4500"/>
<rect x="662" y="130" width="1" height="49" fill="#2ecb2e"/>
<rect x="660" y="140" width="5" height="7" fill="#2ecb2e"/>
<rect x="661" y="141" width="3" height="5" fill="#32cd32"/>
<rect x="670" y="128" width="1" height="32" fill="#2ecb2e"/>
<rect x="668" y="146" width="5" height="10" fill="#2ecb2e"/>
<rect x="669" y="147" width="3" height="8" fill="#32cd32"/>
<rect x="678" y="154" width="1" height="34" fill="#2ecb2e"/>
<rect x="676" y="160" width="5" height="24" fill="#2ecb2e"/>
<rect x="677" y="161" width="3" height="22" fill="#32cd32"/>
<rect x="686" y="173" width="1" height="34" fill="#2ecb2e"/>
<rect x="684" y="183" width="5" height="21" fill="#2ecb2e"/>
<rect x="685" y="184" width="3" height="19" fill="#32cd32"/>
<rect x="694" y="195" width="1" height="40" fill="#2ecb2e"/>
<rect x="692" y="204" width="5" height="29" fill="#2ecb2e"/>
<rect x="693" y="205" width="3" height="27" fill="#32cd32"/>
<rect x="702" y="227" width="1" height="55" fill="#2ecb2e"/>
<rect x="700" y="232" width="5" height="21" fill="#2ecb2e"/>
<rect x="701" y="233" width="3" height="19" fill="#32cd32"/>
<rect x="710" y="248" width="1" height="36" fill="#2ecb2e"/>
<rect x="708" y="252" width="5" height="27" fill="#2ecb2e"/>
<rect x="709" y="253" width="3" height="25" fill="#32cd32"/>
<rect x="718" y="274" width="1" height="12" fill="#2ecb2e"/>
<rect x="716" y="278" width="5" height="6" fill="#2ecb2e"/>
<rect x="717" y="279" width="3" height="4" fill="#32cd32"/>
<rect x="726" y="277" width="1" height="55" fill="#2ecb2e"/>
<rect x="724" y="287" width="5" height="41" fill="#2ecb2e"/>
<rect x="725" y="288" width="3" height="39" fill="#32cd32"/>
<rect x="734" y="301" width="1" height="44" fill="#ff0000"/>
<rect x="732" y="306" width="5" height="22" fill="#ff0000"/>
<rect x="733" y="307" width="3" height="20" fill="#ff4500"/>
<rect x="742" y="265" width="1" height="59" fill="#2ecb2e"/>
<rect x="740" y="305" width="5" height="13" fill="#2ecb2e"/>
<rect x="741" y="306" width="3" height="11" fill="#32cd32"/>
<rect x="750" y="295" width="1" height="58" fill="#2ecb2e"/>
<rect x="748" y="317" width="5" height="11" fill="#2ecb2e"/>
<rect x="749" y="318" width="3" height="9" fill="#32cd32"/>
<rect x="758" y="302" width="1" height="65" fill="#2ecb2e"/>
<rect x="756" y="327" width="5" height="13" fill="#2ecb2e"/>
<rect x="757" y="328" width="3" height="11" fill="#32cd32"/>
<rect x="766" y="299" width="1" height="42" fill="#ff0000"/>
<rect x="764" y="309" width="5" height="31" fill="#ff0000"/>
<rect x="765" y="310" width="3" height="29" fill="#ff4500"/>
<rect x="774" y="272" width="1" height="43" fill="#ff0000"/>
<rect x="772" y="298" width="5" height="17" fill="#ff0000"/>
<rect x="773" y="299" width="3" height="15" fill="#ff4500"/>
<rect x="782" y="267" width="1" height="62" fill="#ff0000"/>
<rect x="780" y="273" width="5" height="26" fill="#ff0000"/>
<rect x="781" y="274" width="3" height="24" fill="#ff4500"/>
<rect x="790" y="250" width="1" height="36" fill="#ff0000"/>
<rect x="788" y="259" width="5" height="15" fill="#ff0000"/>
<rect x="789" y="260" width="3" height="13" fill="#ff4500"/>
<rect x="798" y="238" width="1" height="48" fill="#2ecb2e"/>
<rect x="796" y="258" width="5" height="3" fill="#2ecb2e"/>
<rect x="797" y="259" width="3" height="1" fill="#32cd32"/>
<rect x="806" y="252" width="1" height="38" fill="#2ecb2e"/>
<rect x="804" y="260" width="5" height="8" fill="#2ecb2e"/>
<rect x="805" y="261" width="3" height="6" fill="#32cd32"/>
<rect x="814" y="253" width="1" height="26" fill="#2ecb2e"/>
<rect x="812" y="267" width="5" height="4" fill="#2ecb2e"/>
<rect x="813" y="268" width="3" height="2" fill="#32cd32"/>
<rect x="822" y="241" width="1" height="32" fill="#ff0000"/>
<rect x="820" y="261" width="5" height="11" fill="#ff0000"/>
<rect x="821" y="262" width="3" height="9" fill="#ff4500"/>
<rect x="830" y="234" width="1" height="37" fill="#ff0000"/>
<rect x="828" y="249" width="5" height="12" fill="#ff0000"/>
<rect x="829" y="250" width="3" height="10" fill="#ff4500"/>
<rect x="838" y="207" width="1" height="47" fill="#ff0000"/>
<rect x="836" y="228" width="5" height="22" fill="#ff0000"/>
<rect x="837" y="229" width="3" height="20" fill="#ff4500"/>
<rect x="846" y="192" width="1" height="57" fill="#ff0000"/>
<rect x="844" y="223" width="5" height="6" fill="#ff0000"/>
<rect x="845" y="224" width="3" height="4" fill="#ff4500"/>
<rect x="854" y="202" width="1" height="53" fill="#2ecb2e"/>
<rect x="852" y="223" width="5" height="1" fill="#2ecb2e"/>
<rect x="862" y="221" width="1" height="33" fill="#2ecb2e"/>
<rect x="860" y="223" width="5" height="28" fill="#2ecb2e"/>
<rect x="861" y="224" width="3" height="26" fill="#32cd32"/>
<rect x="870" y="228" width="1" height="69" fill="#2ecb2e"/>
<rect x="868" y="232" width="5" height="52" fill="#2ecb2e"/>
<rect x="869" y="233" width="3" height="50" fill="#32cd32"/>
<rect x="878" y="264" width="1" height="49" fill="#2ecb2e"/>
<rect x="876" y="283" width="5" height="16" fill="#2ecb2e"/>
<rect x="877" y="284" width="3" height="14" fill="#32cd32"/>
<rect x="886" y="283" width="1" height="36" fill="#ff0000"/>
<rect x="884" y="288" width="5" height="11" fill="#ff0000"/>
<rect x="885" y="289" width="3" height="9" fill="#ff4500"/>
<rect x="894" y="281" width="1" height="91" fill="#2ecb2e"/>
<rect x="892" y="288" width="5" height="81" fill="#2ecb2e"/>
<rect x="893" y="289" width="3" height="79" fill="#32cd32"/>
<rect x="902" y="360" width="1" height="61" fill="#ff0000"/>
<rect x="900" y="364" width="5" height="4" fill="#ff0000"/>
<rect x="901" y="365" width="3" height="2" fill="#ff4500"/>
<rect x="910" y="355" width="1" height="13" fill="#ff0000"/>
<rect x="908" y="359" width="5" height="6" fill="#ff0000"/>
<rect x="909" y="360" width="3" height="4" fill="#ff4500"/>
<rect x="918" y="364" width="1" height="2" fill="#ff0000"/>
<rect x="916" y="364" width="5" height="2" fill="#ff0000"/>
</g>
<rect x="718" y="292" width="298" height="2" fill="#ff2020"/>
<rect x="724" y="341" width="288" height="2" fill="#96c800"/>
<rect x="739" y="421" width="296" height="2" fill="#1e88e5"/>
<path d="M8.8 42.2 L16 42.2 L12.4 38.4 Z" fill="#000"/>
<text x="21.1" y="42.8" font-size="10.1" textLength="63.3" lengthAdjust="spacingAndGlyphs">EURUSD,Daily</text>
<text x="91.5" y="42.8" font-size="10.1" textLength="140.7" lengthAdjust="spacingAndGlyphs">1.12336 1.12363 1.12335 1.12358</text>
<text x="10.2" y="446" font-size="10" textLength="153.6" lengthAdjust="spacingAndGlyphs">MACD(12,26,9) -0.002881 -0.001232</text>
<text x="10.2" y="526" font-size="10" textLength="67.2" lengthAdjust="spacingAndGlyphs">RSI(14) 32.7823</text>
<defs><linearGradient id="rg" x1="0" y1="51" x2="0" y2="115" gradientUnits="userSpaceOnUse"><stop offset="0" stop-color="#fa5252"/><stop offset="0.35" stop-color="#e03030"/><stop offset="0.7" stop-color="#c81a1a"/><stop offset="1" stop-color="#ae0000"/></linearGradient><linearGradient id="bg" x1="0" y1="0" x2="0" y2="1"><stop offset="0" stop-color="#e6e6e6"/><stop offset="0.5" stop-color="#d8d8d8"/><stop offset="0.5" stop-color="#cbcbcb"/><stop offset="1" stop-color="#d0d0d0"/></linearGradient></defs>
<rect x="9" y="51" width="219" height="64" fill="#fff"/>
<path d="M9 51 H61 V75 H118 V115 H9 Z" fill="url(#rg)"/>
<path d="M177 51 H228 V115 H120 V75 H177 Z" fill="url(#rg)"/>
<rect x="13" y="74" width="44" height="1" fill="#8e0000"/>
<rect x="180" y="74" width="44" height="1" fill="#8e0000"/>
<rect x="63" y="51" width="111" height="22" fill="#fff" stroke="#aeb4c0" stroke-width="1" transform="translate(0.5,0.5)"/>
<rect x="64.5" y="52.5" width="19" height="19" fill="url(#bg)" stroke="#c4c4c4" stroke-width="1"/>
<rect x="153.5" y="52.5" width="19" height="19" fill="url(#bg)" stroke="#c4c4c4" stroke-width="1"/>
<path d="M71 60 L76 60 L73.5 62.8 Z" fill="#4a5fc8"/>
<path d="M160.2 62.8 L165.2 62.8 L162.7 60 Z" fill="#4a5fc8"/>
<text x="118.7" y="65.7" font-size="11.2" textLength="30" lengthAdjust="spacingAndGlyphs" fill="#0a1432">10.00</text>
<text x="21" y="66" font-size="11.6" textLength="26" lengthAdjust="spacingAndGlyphs" fill="#fff">SELL</text>
<text x="189.5" y="66" font-size="11.6" textLength="22.2" lengthAdjust="spacingAndGlyphs" fill="#fff">BUY</text>
<text x="29.6" y="105.8" font-size="11.8" textLength="23" lengthAdjust="spacingAndGlyphs" fill="#fff" font-weight="bold">1.12</text>
<text x="58" y="105.8" font-size="33" textLength="32.5" lengthAdjust="spacingAndGlyphs" fill="#fff" stroke="url(#rg)" stroke-width="0.7">35</text>
<text x="96" y="89.7" font-size="11.2" textLength="6.7" lengthAdjust="spacingAndGlyphs" fill="#fff" font-weight="bold">8</text>
<text x="139.7" y="105.8" font-size="11.8" textLength="22.5" lengthAdjust="spacingAndGlyphs" fill="#fff" font-weight="bold">1.12</text>
<text x="168.8" y="105.8" font-size="33" textLength="31" lengthAdjust="spacingAndGlyphs" fill="#fff" stroke="url(#rg)" stroke-width="0.7">37</text>
<text x="208.3" y="89.7" font-size="11.2" textLength="5.2" lengthAdjust="spacingAndGlyphs" fill="#fff" font-weight="bold">7</text>
<rect x="0" y="619" width="1215" height="22" fill="#f0f0f0"/>
<rect x="0" y="619" width="1215" height="1" fill="#000"/>
<rect x="0" y="640" width="1215" height="3" fill="#fafafa"/>
<rect x="0" y="643" width="1213" height="1" fill="#bdbdbd"/>
<rect x="0" y="644" width="1215" height="3" fill="#fff"/>
<rect x="1214" y="619" width="1" height="28" fill="#e3e3e3"/>
<rect x="8" y="619" width="103" height="18" fill="#fff"/>
<rect x="7" y="619" width="1" height="19" fill="#000"/>
<rect x="7" y="637" width="105" height="1" fill="#000"/>
<rect x="111" y="619" width="1" height="19" fill="#000"/>
<rect x="1" y="620" width="1" height="19" fill="#a0a0a0"/>
<rect x="2" y="620" width="1" height="19" fill="#696969"/>
<rect x="3" y="620" width="4" height="19" fill="#e3e3e3"/>
<text x="19.8" y="633.7" font-size="12" textLength="78.6" lengthAdjust="spacingAndGlyphs">EURUSD,Daily</text>
<text x="122.3" y="633.7" font-size="12" textLength="81.7" lengthAdjust="spacingAndGlyphs" fill="#5a5a5a">AUDUSD,Daily</text>
<text x="225.7" y="633.7" font-size="12" textLength="78.3" lengthAdjust="spacingAndGlyphs" fill="#5a5a5a">USDCHF,Daily</text>
<text x="326.7" y="633.7" font-size="12" textLength="80" lengthAdjust="spacingAndGlyphs" fill="#5a5a5a">USDCAD,Daily</text>
<text x="430" y="633.7" font-size="12" textLength="69.3" lengthAdjust="spacingAndGlyphs" fill="#5a5a5a">USDCNH,H4</text>
<text x="521" y="633.7" font-size="12" textLength="75" lengthAdjust="spacingAndGlyphs" fill="#5a5a5a">USDJPY,Daily</text>
<text x="618.3" y="633.7" font-size="12" textLength="67.7" lengthAdjust="spacingAndGlyphs" fill="#5a5a5a">XAUUSD,H1</text>
<text x="711.7" y="633.7" font-size="12" textLength="67.3" lengthAdjust="spacingAndGlyphs" fill="#5a5a5a">GBPUSD,H4</text>
<text x="803.4" y="633.7" font-size="12" textLength="63.2" lengthAdjust="spacingAndGlyphs" fill="#5a5a5a">SP500,M15</text>
<text x="891.2" y="633.7" font-size="12" textLength="79.6" lengthAdjust="spacingAndGlyphs" fill="#5a5a5a">GBPUSD,Daily</text>
<text x="993.6" y="633.7" font-size="12" textLength="46.2" lengthAdjust="spacingAndGlyphs" fill="#5a5a5a">DJ30,H4</text>
<text x="1061.3" y="633.7" font-size="12" textLength="70" lengthAdjust="spacingAndGlyphs" fill="#5a5a5a">TECH100,H1</text>
<rect x="216" y="622" width="1" height="14" fill="#6e6e6e"/>
<rect x="315" y="622" width="1" height="14" fill="#6e6e6e"/>
<rect x="419" y="622" width="1" height="14" fill="#6e6e6e"/>
<rect x="511" y="622" width="1" height="14" fill="#6e6e6e"/>
<rect x="608" y="622" width="1" height="14" fill="#6e6e6e"/>
<rect x="699" y="622" width="1" height="14" fill="#6e6e6e"/>
<rect x="792" y="622" width="1" height="14" fill="#6e6e6e"/>
<rect x="879" y="622" width="1" height="14" fill="#6e6e6e"/>
<rect x="983" y="622" width="1" height="14" fill="#6e6e6e"/>
<rect x="1052" y="622" width="1" height="14" fill="#6e6e6e"/>
<rect x="1143" y="622" width="1" height="14" fill="#6e6e6e"/>
<clipPath id="cu"><rect x="1150" y="620" width="28" height="20"/></clipPath>
<text x="1156.2" y="633.7" font-size="12" textLength="25.5" lengthAdjust="spacingAndGlyphs" fill="#5a5a5a" clip-path="url(#cu)">UKO</text>
<path d="M1187.5 624.5 L1187.5 631.5 L1183.8 628 Z" fill="#9a9a9a"/>
<path d="M1202.5 624 L1202.5 632 L1206.6 628 Z" fill="#000"/></svg>
</body></html>
